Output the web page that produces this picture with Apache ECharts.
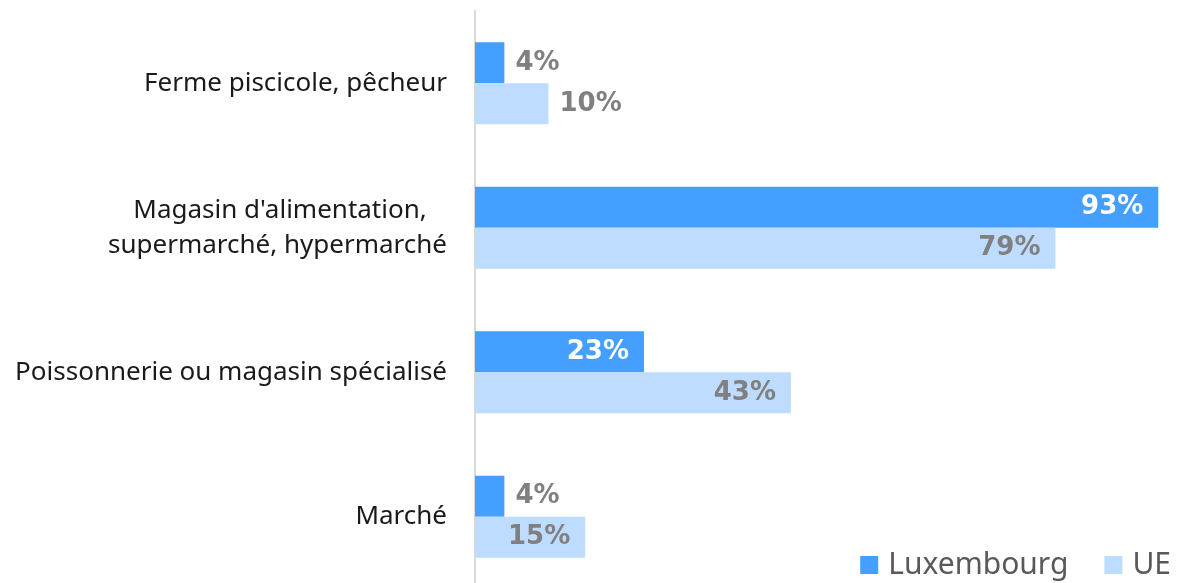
<!DOCTYPE html>
<html>
<head>
<meta charset="utf-8">
<script src="https://cdn.jsdelivr.net/npm/echarts@6/dist/echarts.min.js"></script>
<style>
  html, body { margin: 0; padding: 0; background: #fff; }
  #chart { width: 1186px; height: 583px; }
</style>
</head>
<body>
<div id="chart"></div>
<script>
// categories, top to bottom
const categories = [
  "Ferme piscicole, pêcheur",
  "Magasin d'alimentation,   \nsupermarché, hypermarché",
  "Poissonnerie ou magasin spécialisé",
  "Marché"
];
const luxembourg = [4, 93, 23, 4];
const ue = [10, 79, 43, 15];

const chart = echarts.init(document.getElementById("chart"));

// small bars get their label outside, big ones inside the end
function labelFor(v, insideColor) {
  if (v < 12) {
    return { value: v, label: { position: "right", color: "#808080", distance: 11 } };
  }
  return { value: v, label: { position: "insideRight", color: insideColor, distance: 15 } };
}

chart.setOption({
  animation: false,
  textStyle: { fontFamily: "Noto Sans" },
  grid: { left: 475, right: 13, top: 11, bottom: -6, outerBoundsMode: "none", containLabel: false },
  legend: {
    right: 10,
    bottom: -2,
    itemWidth: 18,
    itemHeight: 18,
    itemGap: 36,
    icon: "rect",
    textStyle: { fontSize: 30, color: "#595959", fontFamily: "Noto Sans", padding: [0, 0, 0, 5] },
    data: ["Luxembourg", "UE"]
  },
  xAxis: {
    type: "value",
    min: 0,
    max: 95,
    show: false
  },
  yAxis: {
    type: "category",
    inverse: true,
    data: categories,
    axisLine: { show: true, lineStyle: { color: "#d9d9d9", width: 2 } },
    axisTick: { show: false },
    axisLabel: {
      fontSize: 26,
      color: "#1a1a1a",
      margin: 28,
      lineHeight: 35,
      align: "right"
    }
  },
  series: [
    {
      name: "Luxembourg",
      type: "bar",
      barWidth: 41,
      barGap: "0%",
      itemStyle: { color: "#449fff" },
      label: {
        show: true,
        formatter: "{c}%",
        fontSize: 26,
        fontWeight: "bold",
        fontFamily: "DejaVu Sans"
      },
      data: luxembourg.map(v => labelFor(v, "#ffffff"))
    },
    {
      name: "UE",
      type: "bar",
      barWidth: 41,
      barGap: "0%",
      itemStyle: { color: "#bddcff" },
      label: {
        show: true,
        formatter: "{c}%",
        fontSize: 26,
        fontWeight: "bold",
        fontFamily: "DejaVu Sans"
      },
      data: ue.map(v => labelFor(v, "#808080"))
    }
  ]
});
</script>
</body>
</html>
